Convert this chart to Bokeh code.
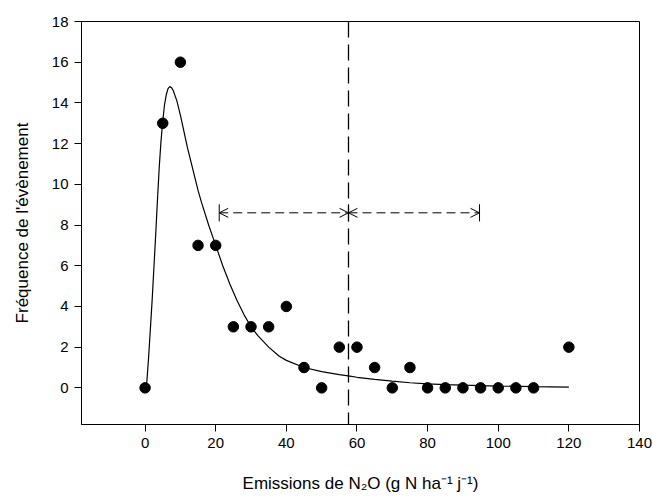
from bokeh.plotting import figure
from bokeh.models import Range1d, Span, Arrow, OpenHead, FixedTicker
from bokeh.embed import file_html
from bokeh.resources import INLINE

# Observed event frequencies
emission_x = [0, 5, 10, 15, 20, 25, 30, 35, 40, 45, 50, 55, 60, 65, 70, 75,
              80, 85, 90, 95, 100, 105, 110, 120]
frequency = [0, 13, 16, 7, 7, 3, 3, 3, 4, 1, 0, 2, 2, 1, 0, 1,
             0, 0, 0, 0, 0, 0, 0, 2]

# Fitted curve
curve_x = [0, 0.5, 1, 1.5, 2, 2.5, 3, 3.5, 4, 4.5, 5, 5.5, 6, 6.5, 7, 7.5, 8,
           9, 10, 11, 12, 13, 14, 15, 16, 18, 20, 22, 24, 26, 28, 30, 32, 35,
           38, 40, 45, 50, 55, 58, 60, 65, 70, 75, 80, 85, 90, 100, 110, 120]
curve_y = [0, 0.3, 1.5, 2.9, 4.3, 5.9, 7.5, 9.2, 10.8, 12.1, 13.1, 13.9, 14.4,
           14.7, 14.8, 14.75, 14.6, 14.1, 13.4, 12.6, 11.8, 11.1, 10.4, 9.7,
           9.1, 8.0, 7.0, 6.0, 5.1, 4.3, 3.6, 3.0, 2.55, 2.0, 1.55, 1.35, 1.0,
           0.8, 0.65, 0.58, 0.52, 0.42, 0.33, 0.25, 0.2, 0.16, 0.13, 0.09,
           0.06, 0.04]

# Mean and spread markers
mean_emission = 57.6
range_low = 21.0
range_high = 94.7
arrow_level = 8.6
bar_half = 0.42

x_ticks = [0, 20, 40, 60, 80, 100, 120, 140]
y_ticks = [0, 2, 4, 6, 8, 10, 12, 14, 16, 18]

FONT = "Liberation Sans"

p = figure(width=653, height=497,
           x_range=Range1d(-18, 140), y_range=Range1d(-1.8, 18),
           output_backend="svg", toolbar_location=None,
           min_border_left=81, min_border_right=14,
           min_border_top=21, min_border_bottom=73)

p.grid.visible = False
p.background_fill_color = "white"
p.border_fill_color = "white"
p.outline_line_color = "black"
p.outline_line_width = 1
p.outline_line_alpha = 1

for ax in (p.xaxis[0], p.yaxis[0]):
    ax.axis_line_color = "black"
    ax.axis_line_width = 1
    ax.major_tick_line_color = "black"
    ax.major_tick_in = 0
    ax.major_tick_out = 7
    ax.minor_tick_line_color = None
    ax.major_label_text_font = FONT
    ax.major_label_text_font_size = "15px"
    ax.major_label_text_color = "black"
    ax.major_label_standoff = 6
    ax.axis_label_text_font = FONT
    ax.axis_label_text_font_size = "17px"
    ax.axis_label_text_font_style = "normal"
    ax.axis_label_text_color = "black"

p.xaxis.ticker = FixedTicker(ticks=x_ticks)
p.yaxis.ticker = FixedTicker(ticks=y_ticks)
p.xaxis.axis_label = "Emissions de N\u2082O (g N ha\u207b\u00b9 j\u207b\u00b9)"
p.yaxis.axis_label = "Fr\u00e9quence de l'\u00e9v\u00e8nement"
p.xaxis.axis_label_standoff = 23
p.yaxis.axis_label_standoff = 17

# Mean line
p.add_layout(Span(location=mean_emission, dimension="height",
                  line_color="black", line_width=1.3, line_dash="16 7"))

# Spread arrows
for xs, xe in ((range_low, mean_emission), (mean_emission, range_high)):
    p.add_layout(Arrow(start=OpenHead(size=9, line_width=1, line_color="black"),
                       end=OpenHead(size=9, line_width=1, line_color="black"),
                       x_start=xs, y_start=arrow_level, x_end=xe, y_end=arrow_level,
                       line_color="black", line_width=1, line_dash="9 5"))

bar_x = [range_low, mean_emission, range_high]
p.segment(x0=bar_x, y0=[arrow_level - bar_half] * 3,
          x1=bar_x, y1=[arrow_level + bar_half] * 3,
          line_color="black", line_width=1)

# Fitted curve
p.line(curve_x, curve_y, line_color="black", line_width=1.2)

# Observations
p.scatter(emission_x, frequency, size=10.5, fill_color="black", line_color="black")

open("out.html", "w").write(file_html(p, INLINE))
